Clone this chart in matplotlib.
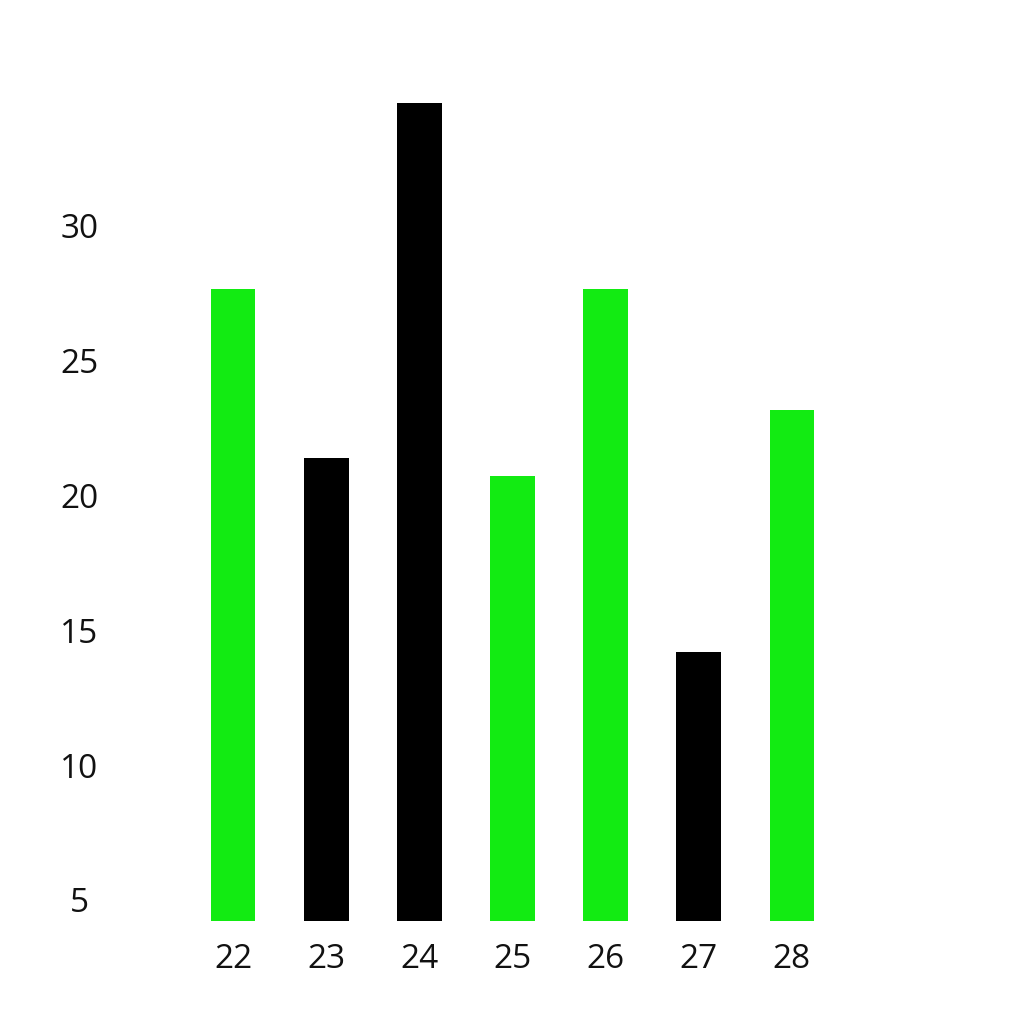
import matplotlib
matplotlib.use("Agg")
import matplotlib.pyplot as plt

categories = ["22", "23", "24", "25", "26", "27", "28"]
values = [27.66, 21.39, 34.57, 20.73, 27.66, 14.2, 23.17]
bar_colors = ["#12EB12", "#000000", "#000000", "#12EB12", "#12EB12", "#000000", "#12EB12"]
yticks = [5, 10, 15, 20, 25, 30]

plt.rcParams['font.family'] = ['Open Sans', 'DejaVu Sans']

fig = plt.figure(figsize=(10.24, 10.24), dpi=100)
ax = fig.add_axes([186.5 / 1024, 0.1006, (838.5 - 186.5) / 1024, 0.8369])

x = list(range(len(categories)))
ax.bar(x, values, width=0.48, color=bar_colors, bottom=0)
ax.set_xlim(-0.5, 6.5)
ax.set_ylim(4.22, 36)
ax.set_xticks(x)
ax.set_xticklabels(categories)
ax.set_yticks(yticks)
ax.set_yticklabels([str(t) for t in yticks])
for s in ax.spines.values():
    s.set_visible(False)
ax.tick_params(axis='both', length=0, labelsize=24, colors='#111111')
ax.tick_params(axis='x', pad=16)
ax.tick_params(axis='y', pad=77)
for lab in ax.get_yticklabels():
    lab.set_horizontalalignment('center')

fig.savefig("out.png", dpi=100, facecolor="white")
